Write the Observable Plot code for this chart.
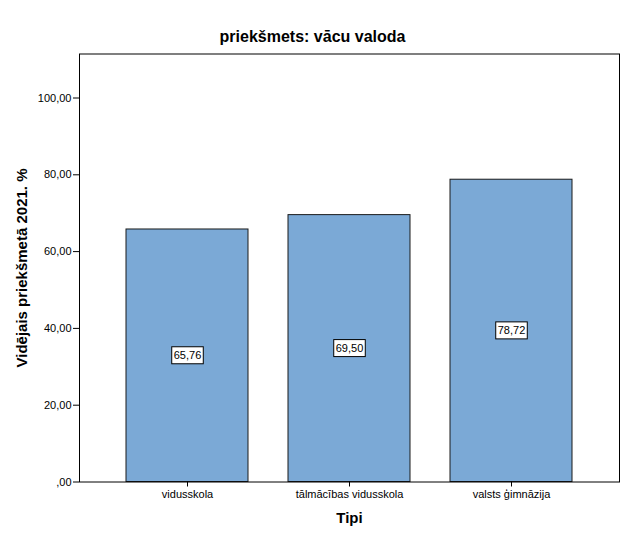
<!DOCTYPE html>
<html><head><meta charset="utf-8">
<script src="https://cdn.jsdelivr.net/npm/d3@7"></script>
<script src="https://cdn.jsdelivr.net/npm/@observablehq/plot@0.6"></script>
<style>
body{margin:0;background:#fff;font-family:"Liberation Sans",Arial,sans-serif;}
#title{width:625px;height:45px;box-sizing:border-box;padding-top:28px;line-height:18px;text-align:center;font-weight:bold;font-size:16px;color:#000}
g[aria-label="y-axis label"], g[aria-label="x-axis label"]{font-weight:bold;font-size:15px;}
</style></head><body>
<div id="title"></div><div id="chart"></div>
<script>
const title = "priekšmets: vācu valoda";
const categories = ["vidusskola", "tālmācības vidusskola", "valsts ģimnāzija"];
const values = [65.76, 69.50, 78.72];
const yTicks = [0, 20, 40, 60, 80, 100];
const yLabel = "Vidējais priekšmetā 2021. %";
const xLabel = "Tipi";

const data = categories.map((c, i) => ({tips: c, v: values[i]}));
const fmt = d => d === 0 ? ",00" : d.toFixed(2).replace(".", ",");

document.getElementById("title").textContent = title;

const chart = Plot.plot({
  width: 625, height: 495,
  marginTop: 8.5, marginBottom: 58.5, marginLeft: 79, marginRight: 6,
  style: {fontFamily: "'Liberation Sans', Arial, sans-serif", fontSize: "11px", color: "#000", background: "#fff"},
  x: {domain: categories, paddingInner: 0.25, paddingOuter: 0.29},
  y: {domain: [0, 111.46]},
  marks: [
    Plot.barY(data, {x: "tips", y: "v", fill: "#7ba9d6", stroke: "#1a1a1a", strokeWidth: 1}),
    Plot.frame({stroke: "#000"}),
    Plot.axisY({ticks: yTicks, tickFormat: fmt, tickSize: 6, tickPadding: 2, label: yLabel, labelAnchor: "center", labelOffset: 63, labelArrow: false}),
    Plot.axisX({tickSize: 5, tickPadding: 3, label: xLabel, labelAnchor: "center", labelOffset: 41, labelArrow: false}),
    Plot.text(data, {x: "tips", y: d => d.v / 2, text: d => fmt(d.v), fill: "#000", fontSize: 11})
  ]
});
document.getElementById("chart").appendChild(chart);

// white boxes with black borders behind the value labels
const svg = d3.select(chart);
svg.selectAll('g[aria-label="text"] text').each(function() {
  const bb = this.getBBox();
  const r = document.createElementNS("http://www.w3.org/2000/svg", "rect");
  r.setAttribute("x", bb.x - 2);
  r.setAttribute("y", bb.y - 2.5);
  r.setAttribute("width", bb.width + 4);
  r.setAttribute("height", bb.height + 5);
  r.setAttribute("fill", "#fff");
  r.setAttribute("stroke", "#000");
  const t = this.getAttribute("transform");
  if (t) r.setAttribute("transform", t);
  this.parentNode.insertBefore(r, this);
});
</script>
</body></html>
